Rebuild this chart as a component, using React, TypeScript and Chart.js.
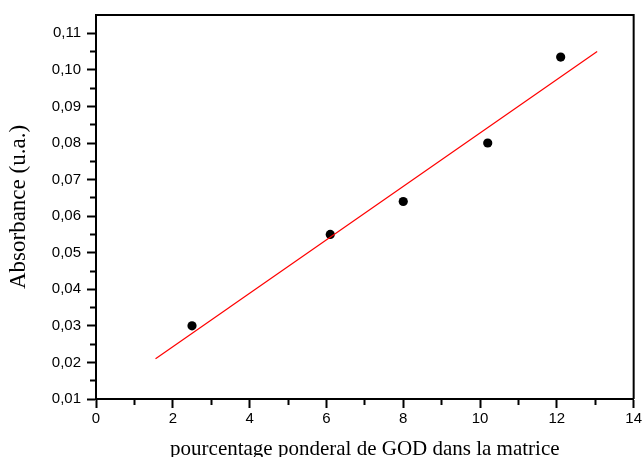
import { useEffect, useRef } from 'react';
import { Chart, registerables } from 'chart.js';

Chart.register(...registerables);

// Data
const pctGOD = [2.5, 6.1, 8.0, 10.2, 12.1];
const absorbance = [0.03, 0.055, 0.064, 0.08, 0.1035];
const fitX = [1.55, 13.05];
const fitY = [0.021, 0.105];

const xMin = 0;
const xMax = 14;
const yMin = 0.01;
const yMax = 0.115;

const xTitle = 'pourcentage ponderal de GOD dans la matrice';
const yTitle = 'Absorbance (u.a.)';

const isMajorX = (v: number) => Math.abs(v / 2 - Math.round(v / 2)) < 1e-6;
const isMajorY = (v: number) => Math.abs(v * 100 - Math.round(v * 100)) < 1e-6;

const boxPlugin = {
  id: 'boxPlugin',
  afterDraw(chart: any) {
    const { ctx, chartArea } = chart;
    ctx.save();
    ctx.strokeStyle = '#000';
    ctx.lineWidth = 2;
    ctx.beginPath();
    ctx.moveTo(chartArea.left, chartArea.top);
    ctx.lineTo(chartArea.right, chartArea.top);
    ctx.lineTo(chartArea.right, chartArea.bottom);
    ctx.stroke();
    ctx.restore();
  },
};

export default function App() {
  const canvasRef = useRef<HTMLCanvasElement | null>(null);

  useEffect(() => {
    if (!canvasRef.current) return;
    const sans = "'Liberation Sans', Arial, sans-serif";
    const serif = "'Liberation Serif', 'Times New Roman', serif";
    const chart = new Chart(canvasRef.current, {
      type: 'scatter',
      data: {
        datasets: [
          {
            type: 'line',
            label: 'fit',
            data: fitX.map((x, i) => ({ x, y: fitY[i] })),
            borderColor: '#ff0000',
            borderWidth: 1.2,
            pointRadius: 0,
            fill: false,
          } as any,
          {
            type: 'scatter',
            label: 'data',
            data: pctGOD.map((x, i) => ({ x, y: absorbance[i] })),
            backgroundColor: '#000',
            borderColor: '#000',
            borderWidth: 0,
            pointRadius: 4.6,
          },
        ],
      },
      options: {
        animation: false,
        responsive: false,
        layout: { padding: { top: 12, right: 7, left: 0, bottom: 0 } },
        plugins: { legend: { display: false }, tooltip: { enabled: false } },
        scales: {
          x: {
            type: 'linear',
            min: xMin,
            max: xMax,
            afterFit: (s: any) => {
              s.height = 58;
            },
            border: { display: true, color: '#000', width: 2 },
            grid: {
              drawOnChartArea: false,
              drawTicks: true,
              tickLength: 9,
              tickWidth: 2,
              tickColor: '#000',
              tickBorderDash: (c: any) => (c.tick && !isMajorX(c.tick.value) ? [5, 100] : []),
            } as any,
            ticks: {
              stepSize: 1,
              autoSkip: false,
              maxRotation: 0,
              padding: 2,
              color: '#000',
              font: { family: sans, size: 15 },
              callback: (v: any) => (isMajorX(Number(v)) ? String(v) : ''),
            },
            title: {
              display: true,
              text: xTitle,
              color: '#000',
              font: { family: serif, size: 21, lineHeight: 0.7 },
              padding: 0,
            },
          },
          y: {
            type: 'linear',
            min: yMin,
            max: yMax,
            afterFit: (s: any) => {
              s.width = 96;
            },
            border: { display: true, color: '#000', width: 2 },
            grid: {
              drawOnChartArea: false,
              drawTicks: true,
              tickLength: 9,
              tickWidth: 2,
              tickColor: (c: any) =>
                c.tick && Math.abs(c.tick.value - yMax) < 1e-9 ? 'rgba(0,0,0,0)' : '#000',
              tickBorderDash: (c: any) => (c.tick && !isMajorY(c.tick.value) ? [0, 3, 5, 100] : []),
            } as any,
            ticks: {
              stepSize: 0.005,
              autoSkip: false,
              padding: 6,
              color: '#000',
              font: { family: sans, size: 15 },
              callback: (v: any) => {
                const n = Number(v);
                return isMajorY(n) ? n.toFixed(2).replace('.', ',') : '';
              },
            },
            title: {
              display: true,
              text: yTitle,
              color: '#000',
              font: { family: serif, size: 23 },
              padding: { top: 5, bottom: 0 },
            },
          },
        },
      },
      plugins: [boxPlugin],
    });
    return () => chart.destroy();
  }, []);

  return (
    <div style={{ position: 'fixed', left: 0, top: 0, width: 644, height: 457, background: '#fff' }}>
      <canvas ref={canvasRef} width={644} height={457} style={{ display: 'block' }} />
    </div>
  );
}
